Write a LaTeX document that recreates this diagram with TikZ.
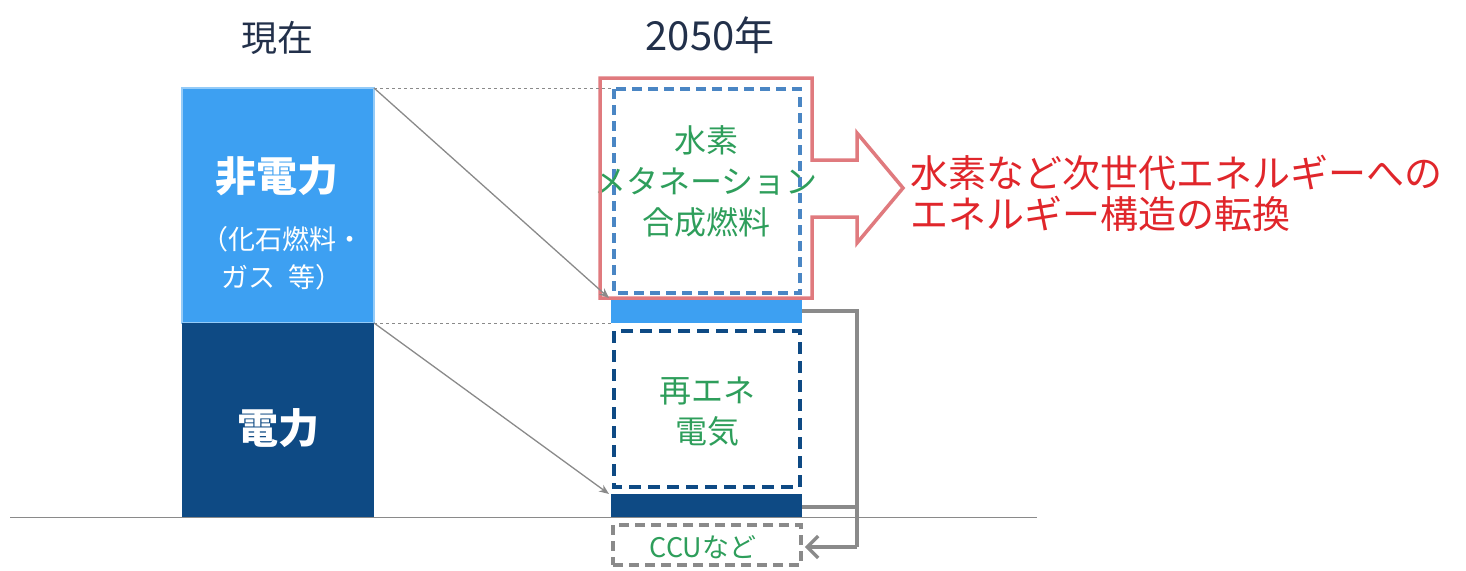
\documentclass[tikz,border=0pt]{standalone}
\usepackage{fontspec}
\setmainfont{Noto Sans CJK JP}
\usetikzlibrary{arrows.meta}
\definecolor{lblue}{HTML}{3DA0F2}
\definecolor{dblue}{HTML}{0E4A84}
\definecolor{dashblue}{HTML}{4A86C4}
\definecolor{navy}{HTML}{22304A}
\definecolor{grn}{HTML}{2E9E5B}
\definecolor{redline}{HTML}{E07A7E}
\definecolor{redtxt}{HTML}{E0262B}
\definecolor{gline}{HTML}{8A8A8A}
\tikzset{
  guide/.style={draw=gline, dashed, line width=0.8pt},
  flow/.style={draw=gline, line width=1.3pt, -{Stealth[length=10pt,width=8pt]}},
  loop/.style={draw=gline, line width=3.5pt},
  gtxt/.style={text=grn, align=center, font=\fontsize{32}{41}\selectfont},
  wtxt/.style={text=white, align=center},
}
\begin{document}
\begin{tikzpicture}[x=1pt,y=-1pt]
\useasboundingbox (0,0) rectangle (1466,570);
% left column
\fill[lblue] (182,88) rectangle (374,323);
\draw[draw=lblue!55!white, line width=1.5pt] (182,88) rectangle (374,323);
\fill[dblue] (182,323) rectangle (374,517);
\node[wtxt, font=\bfseries\fontsize{41}{44}\selectfont] (nonelec) at (277,176) {非電力};
\node[wtxt, font=\fontsize{27}{38}\selectfont] (fossil) at (282,258) {（化石燃料・\\ガス\hspace{0.45em}等）};
\node[wtxt, font=\bfseries\fontsize{41}{44}\selectfont] (elec) at (278,428) {電力};
% headers
\node[text=navy, font=\fontsize{36}{38}\selectfont] (now) at (277,38) {現在};
\node[text=navy, font=\fontsize{40}{42}\selectfont] (y2050) at (710,35) {2050年};
% baseline
\draw[gline, line width=1pt] (10,517) -- (1037,517);
% right column bars
\fill[lblue] (611,298) rectangle (802,323);
\fill[dblue] (611,494) rectangle (802,517);
\coordinate (lbR) at (802,311);
\coordinate (dbR) at (802,507);
% dashed boxes
\draw[dashblue, line width=4pt, dash pattern=on 10pt off 6pt] (614,89) rectangle (800,293);
\draw[dblue, line width=4.5pt, dash pattern=on 12pt off 7pt] (614,331) rectangle (800,487);
\node[draw=gline, line width=3.5pt, dash pattern=on 10pt off 6pt, minimum width=188pt, minimum height=40pt, inner sep=0pt] (ccu) at (707,545) {};
\node[text=grn, font=\fontsize{27}{29}\selectfont] at (703,547) {CCUなど};
% texts in right column
\node[gtxt] (h2) at (706,181) {水素\\メタネーション\\合成燃料};
\node[gtxt] (re) at (707,412) {再エネ\\電気};
% red outline arrow
\draw[redline, line width=3.5pt, line join=miter]
  (600,78) -- (812,78) -- (812,160) -- (857,160) -- (857,133) -- (903,188)
  -- (857,243) -- (857,217) -- (812,217) -- (812,298) -- (600,298) -- cycle;
\node[text=redtxt, anchor=west, align=left, inner sep=0pt, font=\fontsize{38}{41}\selectfont] (msg) at (910,193) {水素など次世代エネルギーへの\\エネルギー構造の転換};
% guides
\coordinate (ltop) at (374,88);
\coordinate (lmid) at (374,323);
\coordinate (rtop) at (611,88);
\coordinate (rmid) at (611,323);
\coordinate (t1) at (609,298);
\coordinate (t2) at (609,494);
\draw[guide] (ltop) -- (rtop);
\draw[guide] (lmid) -- (rmid);
\draw[flow] (ltop) -- (t1);
\draw[flow] (lmid) -- (t2);
% loop to CCU
\coordinate (c1) at (857,311);
\coordinate (c2) at (857,507);
\coordinate (c3) at (857,547);
\draw[loop] (lbR) -- (c1) -- (c3);
\draw[loop] (dbR) -- (c2);
\draw[loop, -{Straight Barb[length=11pt,width=22pt]}] (c3) -- ([xshift=2pt]ccu.east |- c3);
\end{tikzpicture}
\end{document}
